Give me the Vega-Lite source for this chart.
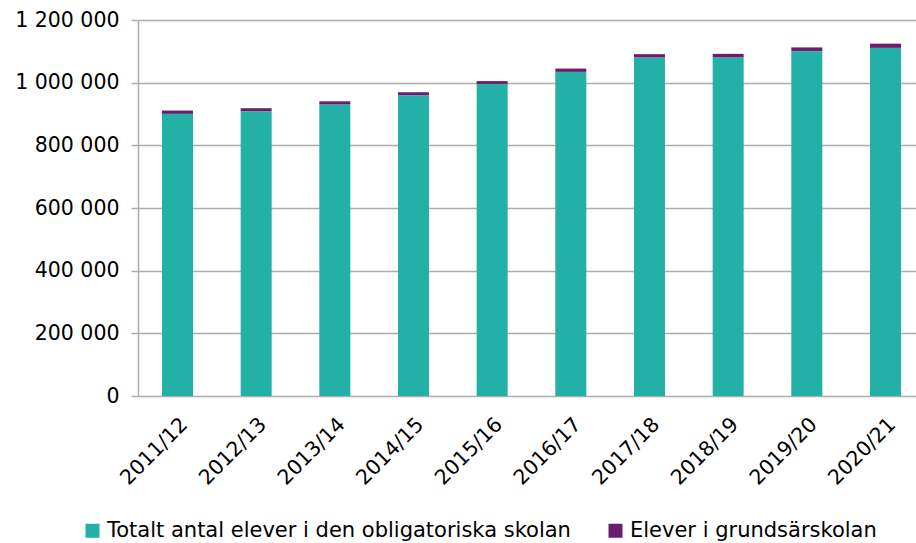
{
  "$schema": "https://vega.github.io/schema/vega-lite/v6.json",
  "width": 778,
  "height": 376,
  "autosize": {"type": "none"},
  "padding": {"left": 138, "top": 20, "right": 0, "bottom": 147},
  "background": "white",
  "config": {
    "font": "DejaVu Sans",
    "view": {"stroke": null}
  },
  "data": {
    "values": [
      {"year": "2011/12", "serie": "Totalt antal elever i den obligatoriska skolan", "ord": 1, "value": 900500},
      {"year": "2012/13", "serie": "Totalt antal elever i den obligatoriska skolan", "ord": 1, "value": 909000},
      {"year": "2013/14", "serie": "Totalt antal elever i den obligatoriska skolan", "ord": 1, "value": 931000},
      {"year": "2014/15", "serie": "Totalt antal elever i den obligatoriska skolan", "ord": 1, "value": 960000},
      {"year": "2015/16", "serie": "Totalt antal elever i den obligatoriska skolan", "ord": 1, "value": 996000},
      {"year": "2016/17", "serie": "Totalt antal elever i den obligatoriska skolan", "ord": 1, "value": 1034500},
      {"year": "2017/18", "serie": "Totalt antal elever i den obligatoriska skolan", "ord": 1, "value": 1080500},
      {"year": "2018/19", "serie": "Totalt antal elever i den obligatoriska skolan", "ord": 1, "value": 1080500},
      {"year": "2019/20", "serie": "Totalt antal elever i den obligatoriska skolan", "ord": 1, "value": 1100500},
      {"year": "2020/21", "serie": "Totalt antal elever i den obligatoriska skolan", "ord": 1, "value": 1111000},
      {"year": "2011/12", "serie": "Elever i grundsärskolan", "ord": 2, "value": 10500},
      {"year": "2012/13", "serie": "Elever i grundsärskolan", "ord": 2, "value": 9500},
      {"year": "2013/14", "serie": "Elever i grundsärskolan", "ord": 2, "value": 9500},
      {"year": "2014/15", "serie": "Elever i grundsärskolan", "ord": 2, "value": 9500},
      {"year": "2015/16", "serie": "Elever i grundsärskolan", "ord": 2, "value": 9000},
      {"year": "2016/17", "serie": "Elever i grundsärskolan", "ord": 2, "value": 10500},
      {"year": "2017/18", "serie": "Elever i grundsärskolan", "ord": 2, "value": 10500},
      {"year": "2018/19", "serie": "Elever i grundsärskolan", "ord": 2, "value": 11500},
      {"year": "2019/20", "serie": "Elever i grundsärskolan", "ord": 2, "value": 12000},
      {"year": "2020/21", "serie": "Elever i grundsärskolan", "ord": 2, "value": 13500}
    ]
  },
  "mark": {"type": "bar"},
  "encoding": {
    "x": {
      "field": "year",
      "type": "nominal",
      "sort": null,
      "scale": {"paddingInner": 0.606, "paddingOuter": 0.248, "align": 0.615},
      "axis": {
        "title": null,
        "labelAngle": -45,
        "labelFontSize": 20.5,
        "labelColor": "#000000",
        "labelPadding": 18,
        "labelDx": -7,
        "labelDy": -1,
        "ticks": false,
        "domain": false,
        "grid": false
      }
    },
    "y": {
      "field": "value",
      "type": "quantitative",
      "stack": "zero",
      "scale": {"domain": [0, 1200000], "nice": false},
      "axis": {
        "title": null,
        "values": [0, 200000, 400000, 600000, 800000, 1000000, 1200000],
        "labelExpr": "replace(format(datum.value, ','), regexp(',', 'g'), ' ')",
        "labelFontSize": 20.5,
        "labelColor": "#000000",
        "labelPadding": 12,
        "tickSize": 7,
        "tickColor": "#B0ACAC",
        "tickWidth": 1.5,
        "domainColor": "#B0ACAC",
        "domainWidth": 1.5,
        "gridColor": "#B0ACAC",
        "gridWidth": 1.5
      }
    },
    "color": {
      "field": "serie",
      "type": "nominal",
      "scale": {
        "domain": ["Totalt antal elever i den obligatoriska skolan", "Elever i grundsärskolan"],
        "range": ["#23B0A6", "#6A1F6E"]
      },
      "legend": {
        "title": null,
        "orient": "none",
        "direction": "horizontal",
        "legendX": -56,
        "legendY": 500,
        "symbolType": "square",
        "symbolSize": 196,
        "symbolStrokeWidth": 0,
        "symbolOffset": 0,
        "labelFontSize": 21,
        "labelColor": "#000000",
        "labelOffset": 4,
        "columnPadding": 34,
        "labelLimit": 600
      }
    },
    "order": {"field": "ord", "type": "quantitative"}
  }
}
